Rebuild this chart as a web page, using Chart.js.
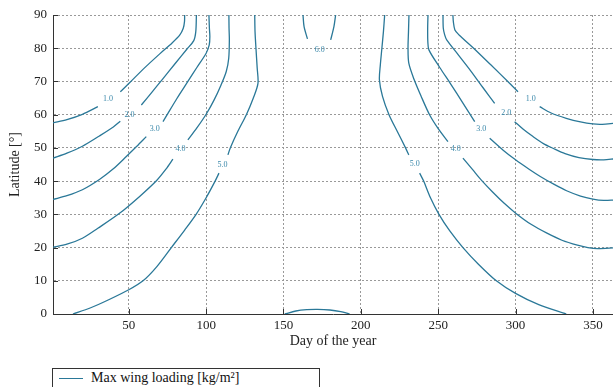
<!DOCTYPE html>
<html>
<head>
<meta charset="utf-8">
<script src="https://cdn.jsdelivr.net/npm/chart.js@4.4.0/dist/chart.umd.min.js"></script>
<style>
  html, body { margin: 0; padding: 0; background: #fff; overflow: hidden; }
  #wrap { position: relative; width: 613px; height: 387px; }
  #legend {
    position: absolute; left: 52px; top: 368px; width: 268px; height: 30px;
    border: 1px solid #333; box-sizing: border-box; background: #fff;
    font-family: 'Liberation Serif', serif; font-size: 14px; color: #111;
  }
  #legend .swatch { position: absolute; left: 6px; top: 9px; width: 24px; height: 0; border-top: 1.3px solid #2a7898; }
  #legend .txt { position: absolute; left: 38px; top: 1px; white-space: nowrap; }
</style>
</head>
<body>
<div id="wrap">
  <canvas id="chart" width="613" height="387"></canvas>
  <div id="legend"><span class="swatch"></span><span class="txt">Max wing loading [kg/m²]</span></div>
</div>
<script>
// contour lines of max wing loading, [day, latitude], split where the labels sit
const wl1LeftLow  = [[1,57.5],[10,58.5],[20,60.1],[30,62.4]];
const wl1LeftUp   = [[44.5,66.9],[50.5,69.6],[60,74],[70,78.3],[78,81.6],[83,84],[85.2,86],[86,88],[86.1,90]];
const wl1RightUp  = [[259.5,90],[259.8,88],[260.8,85.5],[263.5,84],[272.9,80],[284,75],[295,70],[301.6,66.9]];
const wl1RightLow = [[315.6,62.4],[323,60.5],[332.8,58.9],[342,57.8],[350,57.2],[356,57.1],[364,57.4]];

const wl2LeftLow  = [[1,46.9],[10,48.4],[20,50.5],[31,53.6],[40,56.3],[44.5,58]];
const wl2LeftUp   = [[58.1,62.9],[65,66.8],[72,70.8],[80,75.4],[87.5,79.7],[92,82.3],[93.3,85],[93.7,90]];
const wl2RightUp  = [[253.1,90],[253.3,86],[254.2,84],[255.5,82.5],[263,78],[271,73.2],[279,68.1],[286.5,63.4]];
const wl2RightLow = [[299.4,57.9],[305,55.6],[311.3,53.4],[318,51.3],[324.2,49.9],[332,48.3],[341,47.1],[350,46.5],[357,46.4],[364,46.7]];

const wl3LeftLow  = [[1,34.5],[10,35.6],[20,37.4],[31,40.5],[40,43.7],[48.4,47.4],[55,50.4],[61.3,53.4]];
const wl3LeftUp   = [[72.1,57.9],[74.8,60],[81,64.8],[88.2,70],[94,74.2],[100,78.5],[102,81],[102.4,83.5],[102.1,86],[101.8,90]];
const wl3RightUp  = [[243.4,90],[243.2,86],[243.3,82],[244,79.5],[251,74.2],[258,69.3],[266,63.5],[273.6,57.9]];
const wl3RightLow = [[283.3,52.9],[292,49.3],[300,46.4],[309,43.5],[316,41.4],[325,39],[333,37.1],[342,35.5],[350,34.6],[357,34.2],[364,34.3]];

const wl4LeftLow  = [[1,20.1],[10,21],[20,22.8],[30,25.8],[44,30.3],[57,35.4],[68,40.2],[74,43.6],[78.5,46.6]];
const wl4LeftUp   = [[88.2,52.4],[94,56],[100.1,60.2],[105,64.3],[109.5,68.8],[113,73],[114.6,77],[115,82.5],[114.8,86],[114.7,90]];
const wl4RightUp  = [[231.1,90],[230.8,85],[230.5,80],[231,75.5],[234.5,70.5],[239,65.5],[244.5,59.9],[250,55.8],[256.3,51.9]];
const wl4RightLow = [[266,46.9],[272,43.6],[277.9,40.3],[285,36.8],[292.5,33.4],[300.5,30.2],[310,27],[320,24.4],[330,22.2],[340,20.7],[346.8,20],[353,19.7],[364,19.9]];

const wl5LeftLow  = [[13.9,0],[25,1.8],[37,4.3],[50,7.3],[59.2,10],[68,14.2],[77.5,20],[86,25.2],[93.5,30],[100,35],[105.8,40],[108.3,42.4]];
const wl5LeftUp   = [[114.1,47.9],[115.6,50],[120.5,55],[126,60],[130.5,65],[133.5,69.4],[133,74],[132.2,80],[131.6,85],[131.4,90]];
const wl5RightUp  = [[215.4,90],[214.6,85],[213.6,80],[212.6,75],[212,70.5],[214,65.5],[218.2,60],[223.5,55],[228.9,50],[231,47.9]];
const wl5RightLow = [[238,42.4],[240.6,40],[245,35],[250.5,30],[257.5,25],[266,20],[276,15],[287.6,10],[300,6.2],[315,2.8],[332.8,0]];

const wl6PoleLeft  = [[162.6,90],[163.3,86.5],[165.5,82.8]];
const wl6PoleRight = [[180.5,82.5],[182.6,86.5],[183.7,90]];
const wl6Equator   = [[150.8,0],[158,0.9],[165,1.3],[172,1.4],[180,1.2],[187,0.7],[192.7,0]];

// inline contour labels
const labelText = ['1.0', '2.0', '3.0', '4.0', '5.0', '1.0', '2.0', '3.0', '4.0', '5.0', '6.0'];
const labelDay  = [36.5, 50.5, 66.7, 83.5, 110.5, 309.8, 294, 277.9, 261.3, 234.8, 173.5];
const labelLat  = [64.8, 59.9, 55.6, 49.6, 45, 64.8, 60.4, 55.6, 49.7, 45.2, 79.5];

const xTicks = [50, 100, 150, 200, 250, 300, 350];
const yTicks = [0, 10, 20, 30, 40, 50, 60, 70, 80, 90];

const lineColor = '#2a7898';
const serif = "'Liberation Serif', 'DejaVu Serif', serif";

const segments = [
  wl1LeftLow, wl1LeftUp, wl1RightUp, wl1RightLow,
  wl2LeftLow, wl2LeftUp, wl2RightUp, wl2RightLow,
  wl3LeftLow, wl3LeftUp, wl3RightUp, wl3RightLow,
  wl4LeftLow, wl4LeftUp, wl4RightUp, wl4RightLow,
  wl5LeftLow, wl5LeftUp, wl5RightUp, wl5RightLow,
  wl6PoleLeft, wl6PoleRight, wl6Equator
];

const datasets = segments.map((seg, i) => ({
  label: i === 0 ? 'Max wing loading [kg/m²]' : '',
  data: seg.map(p => ({ x: p[0], y: p[1] })),
  showLine: true,
  borderColor: lineColor,
  borderWidth: 1.3,
  pointRadius: 0,
  tension: 0.3,
  fill: false
}));

// matlab-like inward tick marks
const innerTicks = {
  id: 'innerTicks',
  afterDraw(chart) {
    const { ctx, chartArea, scales } = chart;
    ctx.save();
    ctx.strokeStyle = '#333';
    ctx.lineWidth = 1;
    ctx.beginPath();
    yTicks.forEach(v => {
      const y = Math.round(scales.y.getPixelForValue(v)) + 0.5;
      ctx.moveTo(chartArea.left, y);
      ctx.lineTo(chartArea.left + 5, y);
    });
    xTicks.forEach(v => {
      const x = Math.round(scales.x.getPixelForValue(v)) + 0.5;
      ctx.moveTo(x, chartArea.bottom);
      ctx.lineTo(x, chartArea.bottom - 5);
    });
    ctx.stroke();
    ctx.restore();
  }
};

const contourLabels = {
  id: 'contourLabels',
  afterDatasetsDraw(chart) {
    const { ctx, scales } = chart;
    ctx.save();
    ctx.font = '8px ' + serif;
    ctx.fillStyle = '#3a88aa';
    ctx.textAlign = 'center';
    ctx.textBaseline = 'middle';
    labelText.forEach((t, i) => {
      ctx.fillText(t, scales.x.getPixelForValue(labelDay[i]), scales.y.getPixelForValue(labelLat[i]));
    });
    ctx.restore();
  }
};

new Chart(document.getElementById('chart'), {
  type: 'scatter',
  data: { datasets: datasets },
  options: {
    responsive: false,
    animation: false,
    layout: { padding: { top: 15, right: 0, left: 0, bottom: 0 } },
    plugins: {
      legend: { display: false },
      tooltip: { enabled: false }
    },
    scales: {
      x: {
        type: 'linear',
        min: 1,
        max: 363,
        afterBuildTicks: scale => { scale.ticks = xTicks.map(v => ({ value: v })); },
        afterFit: scale => { scale.height = 73; },
        ticks: { color: '#222', padding: 4, font: { family: serif, size: 13 } },
        grid: { color: '#999', drawTicks: false },
        border: { display: true, color: '#333', width: 1, dash: [2, 2] },
        title: { display: true, text: 'Day of the year', color: '#222', font: { family: serif, size: 14 }, padding: { top: 0, bottom: 37 } }
      },
      y: {
        type: 'linear',
        min: 0,
        max: 90,
        afterBuildTicks: scale => { scale.ticks = yTicks.map(v => ({ value: v })); },
        afterFit: scale => { scale.width = 53; },
        ticks: { color: '#222', padding: 6, font: { family: serif, size: 13 } },
        grid: { color: '#999', drawTicks: false },
        border: { display: true, color: '#333', width: 1, dash: [2, 2] },
        title: { display: true, text: 'Latitude [°]', color: '#222', font: { family: serif, size: 14 }, padding: { top: 7, bottom: 0 } }
      }
    }
  },
  plugins: [innerTicks, contourLabels]
});
</script>
</body>
</html>
